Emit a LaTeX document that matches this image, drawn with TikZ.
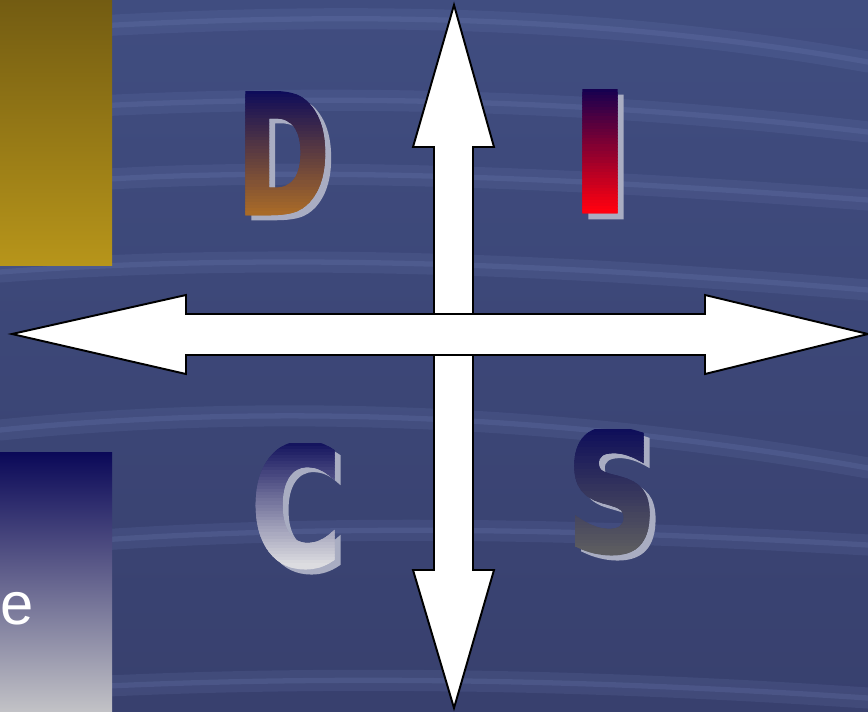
\documentclass[tikz,border=0pt]{standalone}
\usepackage{fontspec}
\newfontfamily\letterfont{DejaVu Sans Bold}[FakeBold=2.5]
\newfontfamily\panelfont{Liberation Sans}
\definecolor{bgtop}{RGB}{64,77,128}
\definecolor{bgbot}{RGB}{56,64,110}
\definecolor{wavelight}{RGB}{112,128,184}
\definecolor{goldtop}{RGB}{115,92,18}
\definecolor{goldbot}{RGB}{183,149,26}
\definecolor{paneltop}{RGB}{10,8,88}
\definecolor{panelbot}{RGB}{194,194,198}
\definecolor{lettershadow}{RGB}{169,173,194}
\definecolor{Dtop}{RGB}{14,12,90}
\definecolor{Dbot}{RGB}{168,106,40}
\definecolor{Itop}{RGB}{22,0,80}
\definecolor{Ibot}{RGB}{255,0,16}
\definecolor{Ctop}{RGB}{20,20,94}
\definecolor{Cbot}{RGB}{220,220,224}
\definecolor{Stop}{RGB}{14,14,90}
\definecolor{Sbot}{RGB}{92,92,96}
\tikzset{letter/.style={font=\fontsize{94}{94}\letterfont, inner sep=0pt}}
% #1,#2 centre, #3 xscale, #4 letter, #5 top colour, #6 bottom colour
\newcommand\gradletter[6]{%
  \foreach \k in {0,...,39} {
    \pgfmathtruncatemacro\mix{100-\k*100/39}
    \begin{scope}
      \clip (#1-80,#2-62+\k*3.1) rectangle ++(160,6.2);
      \node[letter, xscale=#3, text=#5!\mix!#6] (#4-\k) at (#1,#2) {#4};
    \end{scope}
  }%
}

\begin{document}
\begin{tikzpicture}[x=0.02cm, y=-0.02cm,
  wave/.style={draw=wavelight, line width=12pt, opacity=0.16, line cap=round,
    postaction={draw=wavelight, line width=3pt, opacity=0.22}},
  block/.style={fill=white, draw=black, line width=1.1pt, line join=miter}]
\useasboundingbox (0,0) rectangle (868,711);
\clip (0,0) rectangle (868,711);
\shade[top color=bgtop, bottom color=bgbot] (0,0) rectangle (868,711);
\draw[wave] (0,32) .. controls (250,15) and (550,5) .. (868,62);
\draw[wave] (0,112) .. controls (300,90) and (600,100) .. (868,132);
\draw[wave] (0,188) .. controls (250,160) and (600,180) .. (868,200);
\draw[wave] (0,272) .. controls (300,250) and (600,268) .. (868,290);
\draw[wave] (0,430) .. controls (300,400) and (600,420) .. (868,468);
\draw[wave] (0,548) .. controls (300,520) and (600,530) .. (868,545);
\draw[wave] (0,692) .. controls (300,672) and (600,680) .. (868,698);

\shade[top color=goldtop, middle color=goldbot!85!goldtop, bottom color=goldbot] (0,0) rectangle (112,265);
\shade[top color=paneltop, bottom color=panelbot] (0,452) rectangle (112,711);
\node[font=\fontsize{34}{36}\panelfont, text=white, inner sep=0pt, anchor=base west] (word) at (0,624) {e};

\node[letter, xscale=0.68, text=lettershadow] (D) at (289,158) {D};
\gradletter{283}{153}{0.68}{D}{Dtop}{Dbot}
\node[letter, xscale=1.0, text=lettershadow] (I) at (606,157) {I};
\gradletter{600}{151}{1.0}{I}{Itop}{Ibot}
\node[letter, xscale=0.74, text=lettershadow] (C) at (302,510) {C};
\gradletter{296}{505}{0.74}{C}{Ctop}{Cbot}
\node[letter, xscale=0.76, text=lettershadow] (S) at (618,496) {S};
\gradletter{612}{491}{0.76}{S}{Stop}{Sbot}

\draw[block] (454,5) -- (494,147) -- (473,147) -- (473,570) -- (494,570) -- (454,708)
  -- (413,570) -- (434,570) -- (434,147) -- (413,147) -- cycle;
\draw[block] (12,334) -- (186,295) -- (186,314) -- (705,314) -- (705,295) -- (868,334)
  -- (705,374) -- (705,355) -- (186,355) -- (186,374) -- cycle;
\end{tikzpicture}
\end{document}
